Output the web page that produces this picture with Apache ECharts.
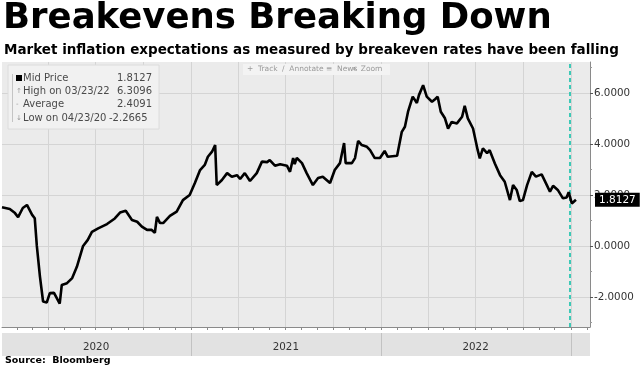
<!DOCTYPE html>
<html><head><meta charset="utf-8">
<script src="https://cdn.jsdelivr.net/npm/echarts@6/dist/echarts.min.js"></script>
<style>html,body{margin:0;padding:0;background:#fff}#c{width:640px;height:370px}</style>
</head><body><div id="c"></div>
<script>
const dates = ['2020-01-03','2020-01-18','2020-01-28','2020-02-03','2020-02-12','2020-02-20','2020-03-01','2020-03-06','2020-03-10','2020-03-16','2020-03-22','2020-03-29','2020-04-04','2020-04-12','2020-04-23','2020-04-27','2020-05-07','2020-05-17','2020-05-26','2020-06-07','2020-06-16','2020-06-24','2020-07-06','2020-07-23','2020-08-07','2020-08-17','2020-08-28','2020-09-09','2020-09-19','2020-09-28','2020-10-08','2020-10-17','2020-10-23','2020-10-27','2020-11-02','2020-11-08','2020-11-21','2020-12-04','2020-12-16','2020-12-29','2021-01-08','2021-01-18','2021-01-27','2021-02-02','2021-02-10','2021-02-16','2021-02-19','2021-03-01','2021-03-11','2021-03-20','2021-03-30','2021-04-05','2021-04-14','2021-04-24','2021-05-07','2021-05-17','2021-05-27','2021-06-01','2021-06-11','2021-06-21','2021-07-04','2021-07-10','2021-07-16','2021-07-19','2021-07-23','2021-08-02','2021-08-11','2021-08-23','2021-09-02','2021-09-11','2021-09-25','2021-10-04','2021-10-14','2021-10-22','2021-10-25','2021-11-06','2021-11-12','2021-11-18','2021-11-25','2021-12-05','2021-12-11','2021-12-20','2021-12-30','2022-01-08','2022-01-14','2022-02-01','2022-02-10','2022-02-16','2022-02-22','2022-03-03','2022-03-11','2022-03-15','2022-03-23','2022-03-30','2022-04-09','2022-04-15','2022-04-20','2022-04-26','2022-05-04','2022-05-10','2022-05-17','2022-05-27','2022-06-06','2022-06-11','2022-06-17','2022-06-27','2022-07-06','2022-07-10','2022-07-16','2022-07-24','2022-07-29','2022-08-08','2022-08-18','2022-08-27','2022-09-06','2022-09-12','2022-09-19','2022-09-25','2022-10-01','2022-10-09','2022-10-18','2022-10-26','2022-11-06','2022-11-16','2022-11-22','2022-11-28','2022-12-07','2022-12-17','2022-12-24','2022-12-28','2023-01-03','2023-01-11'];
const values = [1.52,1.45,1.29,1.13,1.49,1.61,1.22,1.09,0.00,-1.20,-2.18,-2.22,-1.85,-1.84,-2.2665,-1.53,-1.46,-1.26,-0.82,0.00,0.24,0.55,0.69,0.86,1.08,1.31,1.38,1.02,0.95,0.76,0.63,0.63,0.52,1.14,0.90,0.90,1.18,1.35,1.80,2.00,2.47,2.98,3.18,3.50,3.70,3.96,2.39,2.59,2.86,2.72,2.78,2.63,2.86,2.55,2.86,3.31,3.29,3.37,3.15,3.21,3.15,2.91,3.45,3.21,3.46,3.25,2.86,2.39,2.67,2.72,2.47,2.98,3.25,4.04,3.25,3.25,3.45,4.12,3.96,3.89,3.76,3.45,3.45,3.73,3.50,3.54,4.48,4.68,5.27,5.86,5.61,5.92,6.3096,5.86,5.66,5.76,5.86,5.27,5.01,4.61,4.87,4.81,5.07,5.50,5.01,4.61,3.76,3.44,3.83,3.64,3.76,3.24,2.78,2.52,1.80,2.39,2.20,1.76,1.80,2.39,2.91,2.72,2.81,2.39,2.13,2.36,2.20,1.87,1.90,2.11,1.67,1.8127];
const yearLabels = ['2020','2021','2022'];
const yTickValues = [-2,0,2,4,6];
const yMinorTickValues = [-3,-1,1,3,5,7];
const statsLabels = ['Mid Price','High on 03/23/22','Average','Low on 04/23/20'];
const statsValues = ['1.8127','6.3096','2.4091','-2.2665'];
const toolbarLabels = ['+  Track','\u2215  Annotate','\u2261  News','\u2315  Zoom'];
const markerDate = '2022-12-30';
const xMinDate = '2020-01-03', xMaxDate = '2023-02-07';
const yMin = -3.18, yMax = 7.22;

const P = s => echarts.number.parseDate(s).getTime();
const xMin = P(xMinDate), xMax = P(xMaxDate);
const monthTicks = [], quarterTicks = [];
for (let y = 2020; y <= 2023; y++) for (let m = 1; m <= 12; m++) {
  const t = P(y + '-' + String(m).padStart(2, '0') + '-01');
  if (t > xMin && t < xMax) { monthTicks.push(t); if ((m - 1) % 3 === 0) quarterTicks.push(t); }
}
const yearTicks = ['2021','2022','2023'].map(y => P(y + '-01-01'));
const yearMids = yearLabels.map(y => P(y + '-07-02'));
const lastValue = values[values.length - 1];
const seriesData = dates.map((d, i) => [P(d), values[i]]);

const chart = echarts.init(document.getElementById('c'), null, {renderer: 'canvas'});
const axisFont = {fontFamily: 'DejaVu Sans', fontSize: 10.3, color: '#333'};
const legendY = [78, 91.5, 104.5, 118];
const legendValX = [117, 117, 117, 109];
const legendMarks = ['', '\u2191', '-', '\u2193'];
const toolbarX = [247, 282, 326, 352];

const graphic = [
  {type: 'rect', z: 100, shape: {x: 8, y: 65, width: 151, height: 64}, style: {fill: '#f1f1f1', stroke: '#dcdcdc', lineWidth: 1}},
  {type: 'line', z: 101, shape: {x1: 12.5, y1: 74, x2: 12.5, y2: 122}, style: {stroke: '#c4c4c4', lineWidth: 1}},
  {type: 'rect', z: 102, shape: {x: 16, y: 75, width: 6, height: 6}, style: {fill: '#000'}},
  {type: 'rect', z: 100, shape: {x: 243, y: 64, width: 147, height: 11}, style: {fill: '#f3f3f3'}}
];
statsLabels.forEach((t, i) => {
  graphic.push({type: 'text', z: 102, x: 23, y: legendY[i], style: {text: t, fontFamily: 'DejaVu Sans', fontSize: 10, fill: '#4a4a4a', verticalAlign: 'middle'}});
  graphic.push({type: 'text', z: 102, x: legendValX[i], y: legendY[i], style: {text: statsValues[i], fontFamily: 'DejaVu Sans', fontSize: 10, fill: '#4a4a4a', verticalAlign: 'middle'}});
  if (legendMarks[i]) graphic.push({type: 'text', z: 102, x: 16, y: legendY[i], style: {text: legendMarks[i], fontFamily: 'DejaVu Sans', fontSize: 7, fill: '#999', verticalAlign: 'middle'}});
});
toolbarLabels.forEach((t, i) => {
  graphic.push({type: 'text', z: 102, x: toolbarX[i], y: 69.5, style: {text: t, fontFamily: 'DejaVu Sans', fontSize: 7.5, fill: '#9a9a9a', verticalAlign: 'middle'}});
});

chart.setOption({
  animation: false,
  backgroundColor: '#fff',
  title: [
    {text: 'Breakevens Breaking Down', left: 3, top: 1, padding: 0, textStyle: {fontFamily: 'DejaVu Sans', fontWeight: 'bold', fontSize: 35.5, color: '#000'}},
    {text: 'Market inflation expectations as measured by breakeven rates have been falling', left: 4, top: 43, padding: 0, textStyle: {fontFamily: 'DejaVu Sans', fontWeight: 'bold', fontSize: 13.5, color: '#000'}},
    {text: 'Source:  Bloomberg', left: 5, top: 356, padding: 0, textStyle: {fontFamily: 'DejaVu Sans', fontWeight: 'bold', fontSize: 9.5, color: '#000'}}
  ],
  grid: [
    {left: 2, right: 50, top: 62, bottom: 43, show: true, backgroundColor: '#ebebeb', borderWidth: 0, outerBoundsMode: 'none', containLabel: false},
    {left: 2, right: 50, top: 333, height: 23, show: true, backgroundColor: '#e2e2e2', borderWidth: 0, outerBoundsMode: 'none', containLabel: false}
  ],
  xAxis: [
    {type: 'value', gridIndex: 0, position: 'bottom', min: xMin, max: xMax, scale: true,
     axisLine: {show: true, onZero: false, lineStyle: {color: '#8a8a8a', width: 1}},
     axisTick: {show: true, customValues: monthTicks, length: 3, lineStyle: {color: '#8a8a8a'}},
     axisLabel: {show: false}, splitLine: {show: false}},
    {type: 'value', gridIndex: 0, position: 'bottom', min: xMin, max: xMax, scale: true,
     axisLine: {show: false, onZero: false}, axisTick: {show: false, customValues: quarterTicks},
     axisLabel: {show: false}, splitLine: {show: true, lineStyle: {color: '#d4d4d4', width: 1}}},
    {type: 'value', gridIndex: 1, position: 'bottom', min: xMin, max: xMax, scale: true,
     axisLine: {show: false, onZero: false},
     axisTick: {show: true, customValues: yearTicks, inside: true, length: 23, lineStyle: {color: '#c2c2c2'}},
     axisLabel: Object.assign({show: true, customValues: yearMids, inside: true, margin: 4,
       formatter: v => String(new Date(v).getFullYear())}, axisFont),
     splitLine: {show: false}}
  ],
  yAxis: [
    {type: 'value', gridIndex: 0, position: 'right', min: yMin, max: yMax,
     axisLine: {show: true, onZero: false, lineStyle: {color: '#8a8a8a'}},
     axisTick: {show: true, customValues: yTickValues, length: 3, lineStyle: {color: '#555'}},
     axisLabel: Object.assign({customValues: yTickValues, margin: 4, formatter: v => v.toFixed(4)}, axisFont),
     splitLine: {show: true, lineStyle: {color: '#d4d4d4', width: 1}}},
    {type: 'value', gridIndex: 0, position: 'right', min: yMin, max: yMax,
     axisLine: {show: false, onZero: false},
     axisTick: {show: true, customValues: yMinorTickValues, length: 2, lineStyle: {color: '#999'}},
     axisLabel: {show: false}, splitLine: {show: false}},
    {type: 'value', gridIndex: 0, position: 'right', min: yMin, max: yMax, z: 20,
     axisLine: {show: false, onZero: false}, axisTick: {show: false},
     axisLabel: {customValues: [lastValue], margin: 5, formatter: v => v.toFixed(4),
       fontFamily: 'DejaVu Sans', fontSize: 10.5, color: '#fff', backgroundColor: '#000', padding: [2, 4, 1, 4]},
     splitLine: {show: false}},
    {type: 'value', gridIndex: 1, min: 0, max: 1, show: false}
  ],
  graphic: graphic,
  series: [{
    type: 'line', xAxisIndex: 0, yAxisIndex: 0, data: seriesData, showSymbol: false, symbol: 'none',
    lineStyle: {color: '#000', width: 2.6}, z: 5,
    markLine: {silent: true, symbol: ['none', 'none'], label: {show: false},
      lineStyle: {color: '#3cc9b6', type: [4, 3], width: 2},
      data: [{xAxis: P(markerDate)}]}
  }]
});
</script></body></html>
